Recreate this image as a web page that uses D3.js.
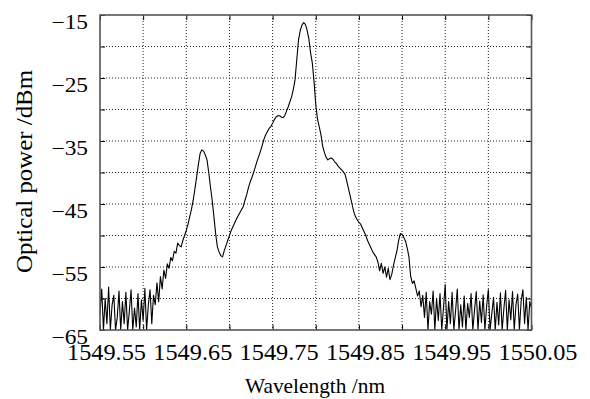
<!DOCTYPE html>
<html>
<head>
<meta charset="utf-8">
<script src="https://cdn.jsdelivr.net/npm/d3@7/dist/d3.min.js"></script>
<style>
  body { margin: 0; background: #fff; }
  text { font-family: "Liberation Serif", "Times New Roman", serif; fill: #000; }
</style>
</head>
<body>
<svg id="spectrum"></svg>
<script>
////////////////////////////////////////////////////////////////////////////////
/////////////////////////////////////////////////////////////// Spectrum data
////////////////////////////////////////////////////////////////////////////////

// OSA trace: first sample and sample spacing (nm)
const wavelengthStart = 1549.55;
const wavelengthStep = 0.002;

// measured optical power (dBm), one value per sample
const powerDbm = [
  -62.5, -58.5, -65, -60, -64, -58.2, -65, -61, -59.5, -65,
  -63, -58.8, -65, -60.5, -64, -59, -65, -62, -58.6, -65,
  -61.5, -64.5, -59.2, -65, -60.2, -63.5, -58.4, -65, -61, -58.6,
  -64, -59.5, -61, -57.5, -60.5, -56.5, -58.5, -55.5, -56.8, -54.5,
  -55.2, -53.5, -54, -52.5, -52.8, -51.2, -51.6, -51.8, -50.8, -50,
  -49.2, -48.2, -47, -45.8, -44.4, -42.6, -40.7, -38.7, -37, -36.4,
  -36.6, -37.2, -38, -40, -42.3, -44.4, -47, -49.7, -51.8, -52.6,
  -53.2, -53.4, -52.4, -51.6, -50.8, -50, -49.2, -48.6, -48, -47.4,
  -46.9, -46.4, -45.9, -45.4, -44.4, -43.5, -42.4, -41.5, -40.8, -40,
  -39.1, -38.2, -37.4, -36.6, -35.7, -34.7, -34, -33.5, -33, -32.7,
  -32.2, -31.6, -31.2, -31, -31, -31.2, -31.3, -31, -30.3, -29.6,
  -28.8, -28, -26.8, -25.3, -22.1, -19, -17.5, -16.6, -16.2, -16.5,
  -17.4, -18.8, -21, -22.6, -25.5, -29.2, -31.5, -32.7, -34, -35.8,
  -36.8, -37.6, -38, -37.8, -37.7, -37.9, -38.3, -38.6, -39, -39.3,
  -39.6, -39.9, -40.3, -41.4, -42.6, -43.8, -45, -46.2, -47, -47.5,
  -47.9, -48.2, -48.8, -49.4, -50, -50.8, -51.4, -52, -52.6, -53,
  -53.4, -54.2, -55.6, -54.4, -56, -55, -56.6, -55.2, -57, -56.2,
  -54.8, -53.6, -52.5, -50.8, -49.7, -49.8, -50.3, -50.9, -52, -53.4,
  -56.5, -57.6, -57.2, -58.4, -59.6, -58.8, -61.3, -59.5, -63, -59,
  -65, -60.5, -62.5, -58.8, -65, -60, -63.5, -59.2, -65, -61.5,
  -57.8, -65, -60.5, -64, -59, -65, -62, -58.5, -65, -61,
  -64.5, -59.6, -65, -60.8, -63, -59.2, -65, -61.8, -58.9, -65,
  -60.4, -63.8, -59.4, -65, -61.2, -58.6, -65, -62.4, -59.8, -65,
  -60.6, -64.2, -59.1, -65, -61.6, -58.7, -65, -60.2, -63.4, -58.9,
  -65, -61, -59.3, -65, -60.4, -58.6, -64, -59.8, -65, -60.5,
  -61.5
];

// axes
const xGrid = [1549.55, 1549.60, 1549.65, 1549.70, 1549.75, 1549.80,
               1549.85, 1549.90, 1549.95, 1550.00, 1550.05];
const yGrid = [-65, -60, -55, -50, -45, -40, -35, -30, -25, -20, -15];
const xTickValues = [1549.55, 1549.65, 1549.75, 1549.85, 1549.95, 1550.05];
const xTickLabels = ["1549.55", "1549.65", "1549.75", "1549.85", "1549.95", "1550.05"];
const yTickValues = [-65, -55, -45, -35, -25, -15];
const yTickLabels = ["\u221265", "\u221255", "\u221245", "\u221235", "\u221225", "\u221215"];

////////////////////////////////////////////////////////////////////////////////
//////////////////////////////////////////////////////////////////// Chart
////////////////////////////////////////////////////////////////////////////////

const margin = { top: 15, right: 58.5, bottom: 69, left: 100 };
const width = 590 - margin.left - margin.right;
const height = 399 - margin.top - margin.bottom;

const svg = d3.select("#spectrum")
                .attr("width", 590)
                .attr("height", 399);

const plot = svg.append("g")
                  .attr("transform", `translate(${margin.left},${margin.top})`);

const xScale = d3.scaleLinear()
                 .domain([1549.55, 1550.05])
                 .range([0, width]);
const yScale = d3.scaleLinear()
                 .domain([-65, -15])
                 .range([height, 0]);

plot.append("clipPath")
      .attr("id", "clip")
    .append("rect")
      .attr("width", width)
      .attr("height", height);

// dotted grid
plot.selectAll(".vgrid")
    .data(xGrid.slice(1, -1))
    .join("line")
      .attr("class", "vgrid")
      .attr("x1", d => xScale(d)).attr("x2", d => xScale(d))
      .attr("y1", 0).attr("y2", height)
      .attr("stroke", "#222")
      .attr("stroke-width", 1)
      .attr("stroke-dasharray", "1,2");
plot.selectAll(".hgrid")
    .data(yGrid.slice(1, -1))
    .join("line")
      .attr("class", "hgrid")
      .attr("x1", 0).attr("x2", width)
      .attr("y1", d => yScale(d)).attr("y2", d => yScale(d))
      .attr("stroke", "#222")
      .attr("stroke-width", 1)
      .attr("stroke-dasharray", "1,2");

// inward ticks on all four sides
function tickAxis(axis) {
  return axis.tickSizeInner(-5).tickSizeOuter(0).tickFormat("");
}
plot.append("g")
      .attr("transform", `translate(0,${height})`)
      .call(tickAxis(d3.axisBottom(xScale).tickValues(xGrid)));
plot.append("g")
      .call(tickAxis(d3.axisTop(xScale).tickValues(xGrid)));
plot.append("g")
      .call(tickAxis(d3.axisLeft(yScale).tickValues(yGrid)));
plot.append("g")
      .attr("transform", `translate(${width},0)`)
      .call(tickAxis(d3.axisRight(yScale).tickValues(yGrid)));
plot.selectAll(".domain").remove();
plot.selectAll(".tick line").attr("stroke", "#000");

// spectrum trace
const line = d3.line()
               .x((d, i) => xScale(wavelengthStart + i * wavelengthStep))
               .y(d => yScale(d));
plot.append("path")
      .datum(powerDbm)
      .attr("clip-path", "url(#clip)")
      .attr("fill", "none")
      .attr("stroke", "#000")
      .attr("stroke-width", 1.1)
      .attr("stroke-linejoin", "round")
      .attr("d", line);

// frame
plot.append("rect")
      .attr("width", width)
      .attr("height", height)
      .attr("fill", "none")
      .attr("stroke", "#555")
      .attr("stroke-width", 1.6);

// tick labels
plot.selectAll(".xlabel")
    .data(xTickValues)
    .join("text")
      .attr("class", "xlabel")
      .attr("x", d => xScale(d) + 6.5)
      .attr("y", height + 29.5)
      .attr("text-anchor", "middle")
      .attr("font-size", "22.5px")
      .attr("textLength", 79)
      .attr("lengthAdjust", "spacingAndGlyphs")
      .text((d, i) => xTickLabels[i]);
plot.selectAll(".ylabel")
    .data(yTickValues)
    .join("text")
      .attr("class", "ylabel")
      .attr("x", -12)
      .attr("y", d => yScale(d) + 13.5)
      .attr("text-anchor", "end")
      .attr("font-size", "20px")
      .attr("textLength", 36.5)
      .attr("lengthAdjust", "spacingAndGlyphs")
      .text((d, i) => yTickLabels[i]);

// axis titles
svg.append("text")
     .attr("x", 315)
     .attr("y", 393)
     .attr("text-anchor", "middle")
     .attr("font-size", "22px")
     .attr("textLength", 140)
     .attr("lengthAdjust", "spacingAndGlyphs")
     .text("Wavelength /nm");
svg.append("text")
     .attr("transform", "translate(31.5,171.5) rotate(-90)")
     .attr("text-anchor", "middle")
     .attr("font-size", "23px")
     .attr("textLength", 203)
     .attr("lengthAdjust", "spacingAndGlyphs")
     .text("Optical power /dBm");
</script>
</body>
</html>
